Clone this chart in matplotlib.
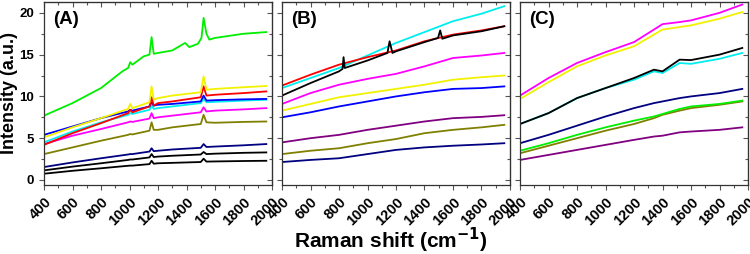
import matplotlib
matplotlib.use("Agg")
import matplotlib.pyplot as plt
from matplotlib.ticker import MultipleLocator

plt.rcParams['font.family'] = ['Liberation Sans', 'DejaVu Sans']

# Panel A: shared read positions (peaks near 1005, 1155, 1520 cm-1)
xA = [400, 600, 800, 990, 1005, 1020, 1140, 1155, 1170, 1200, 1300, 1500, 1520, 1540, 1600, 1800, 1960]
a_yellow = [5.1, 6.3, 7.4, 8.5, 9.1, 8.6, 9.3, 11.2, 9.6, 9.8, 10.1, 10.5, 12.4, 10.8, 10.9, 11.1, 11.25]
a_red = [4.2, 5.6, 6.8, 8.0, 8.4, 8.1, 8.8, 9.9, 8.9, 9.2, 9.4, 9.9, 11.2, 10.1, 10.2, 10.4, 10.6]
a_blue = [5.4, 6.4, 7.4, 8.2, 8.4, 8.3, 8.8, 9.3, 8.9, 9.0, 9.1, 9.4, 10.1, 9.5, 9.55, 9.65, 9.7]
a_cyan = [4.5, 5.8, 6.9, 7.8, 8.0, 7.9, 8.4, 8.9, 8.5, 8.6, 8.8, 9.2, 9.7, 9.3, 9.35, 9.5, 9.6]
a_magenta = [4.3, 5.3, 6.1, 6.9, 7.0, 6.95, 7.35, 8.0, 7.4, 7.5, 7.7, 8.1, 8.7, 8.2, 8.3, 8.45, 8.6]
a_olive = [3.1, 3.9, 4.7, 5.4, 5.5, 5.45, 5.9, 6.9, 6.0, 6.0, 6.3, 6.7, 7.8, 6.9, 6.85, 6.95, 7.0]
a_navy = [1.55, 2.1, 2.6, 3.05, 3.1, 3.1, 3.4, 3.8, 3.45, 3.5, 3.65, 3.85, 4.3, 3.95, 4.0, 4.15, 4.3]
a_black1 = [1.15, 1.6, 2.0, 2.4, 2.45, 2.45, 2.7, 3.1, 2.75, 2.8, 2.9, 3.05, 3.35, 3.1, 3.15, 3.25, 3.3]
a_black2 = [0.75, 1.1, 1.4, 1.7, 1.72, 1.72, 1.9, 2.3, 1.95, 2.0, 2.05, 2.15, 2.55, 2.2, 2.22, 2.27, 2.3]
xA_green = [400, 600, 800, 950, 990, 1005, 1020, 1100, 1140, 1155, 1170, 1200, 1300, 1390,
            1420, 1480, 1505, 1520, 1540, 1560, 1600, 1800, 1960]
a_green = [7.7, 9.2, 11.0, 13.0, 13.4, 14.1, 13.8, 14.8, 15.0, 17.1, 15.1, 15.2, 15.5, 16.4,
           15.9, 16.3, 17.0, 19.4, 17.5, 16.8, 17.0, 17.5, 17.7]

# Panel B
xB = [400, 600, 800, 1000, 1200, 1400, 1600, 1800, 1960]
b_cyan = [11.0, 12.2, 13.4, 14.9, 16.4, 17.7, 19.0, 19.9, 20.8]
b_red = [11.3, 12.6, 13.8, 14.7, 15.5, 16.6, 17.4, 17.9, 18.4]
b_magenta = [9.1, 10.4, 11.4, 12.1, 12.7, 13.6, 14.6, 14.9, 15.2]
b_yellow = [8.3, 9.1, 9.9, 10.4, 10.9, 11.4, 12.0, 12.3, 12.5]
b_blue = [7.5, 8.1, 8.8, 9.4, 10.0, 10.5, 10.9, 11.0, 11.2]
b_purple = [4.5, 5.0, 5.4, 6.0, 6.5, 7.0, 7.4, 7.55, 7.75]
b_olive = [3.1, 3.5, 3.8, 4.4, 4.9, 5.6, 6.0, 6.3, 6.6]
b_navy = [2.15, 2.4, 2.6, 3.1, 3.6, 3.9, 4.1, 4.25, 4.4]
xB_black = [400, 600, 800, 825, 832, 840, 1000, 1140, 1155, 1175, 1200, 1400, 1495, 1510, 1525, 1600, 1800, 1960]
b_black = [10.1, 11.6, 13.0, 13.3, 14.7, 13.4, 14.3, 15.2, 16.6, 15.2, 15.4, 16.5, 17.0, 17.9, 16.9, 17.3, 17.8, 18.4]

# Panel C
xC = [400, 600, 800, 1000, 1200, 1340, 1400, 1520, 1600, 1800, 1960]
c_magenta = [10.1, 12.2, 14.0, 15.3, 16.5, 18.0, 18.65, 18.9, 19.1, 20.0, 21.0]
c_yellow = [9.7, 11.7, 13.6, 14.9, 16.0, 17.4, 18.0, 18.3, 18.5, 19.3, 20.1]
c_black = [6.7, 8.0, 9.8, 11.0, 12.2, 13.2, 13.0, 14.4, 14.35, 15.0, 15.8]
c_cyan = [6.7, 8.0, 9.8, 11.0, 12.0, 13.0, 12.8, 14.0, 13.9, 14.5, 15.2]
c_navy = [4.4, 5.4, 6.5, 7.6, 8.6, 9.2, 9.4, 9.8, 10.0, 10.4, 10.9]
c_green = [3.5, 4.4, 5.4, 6.3, 7.1, 7.6, 7.9, 8.5, 8.8, 9.1, 9.5]
c_olive = [3.2, 4.1, 5.0, 5.9, 6.7, 7.4, 7.8, 8.3, 8.6, 9.0, 9.4]
c_purple = [2.4, 3.0, 3.6, 4.2, 4.8, 5.2, 5.3, 5.7, 5.8, 6.0, 6.3]

xticks = [400, 600, 800, 1000, 1200, 1400, 1600, 1800, 2000]
yticks = [0, 5, 10, 15, 20]

GREEN, YELLOW, RED, BLUE = '#00ee00', '#f2f200', '#ff0000', '#0000ff'
CYAN, MAGENTA, OLIVE, NAVY = '#00eeee', '#ff00ff', '#808000', '#000080'
BLACK, PURPLE = '#000000', '#800080'

panel_A = [(xA_green, a_green, GREEN), (xA, a_black2, BLACK), (xA, a_black1, BLACK),
           (xA, a_navy, NAVY), (xA, a_olive, OLIVE), (xA, a_magenta, MAGENTA),
           (xA, a_cyan, CYAN), (xA, a_blue, BLUE), (xA, a_red, RED), (xA, a_yellow, YELLOW)]
panel_B = [(xB, b_navy, NAVY), (xB, b_olive, OLIVE), (xB, b_purple, PURPLE),
           (xB, b_blue, BLUE), (xB, b_yellow, YELLOW), (xB, b_magenta, MAGENTA),
           (xB, b_cyan, CYAN), (xB, b_red, RED), (xB_black, b_black, BLACK)]
panel_C = [(xC, c_purple, PURPLE), (xC, c_olive, OLIVE), (xC, c_green, GREEN),
           (xC, c_navy, NAVY), (xC, c_cyan, CYAN), (xC, c_black, BLACK),
           (xC, c_yellow, YELLOW), (xC, c_magenta, MAGENTA)]


def style_ticks(axis, direction):
    axis.tick_params(which='both', direction=direction, color='#555555', width=0.8)
    axis.tick_params(which='major', length=3.5)
    axis.tick_params(which='minor', length=2)


fig = plt.figure(figsize=(7.5, 2.54), dpi=100)
lefts = [44, 282, 520]
panels = [panel_A, panel_B, panel_C]
labels = ['(A)', '(B)', '(C)']

for i, (left, series, lab) in enumerate(zip(lefts, panels, labels)):
    ax = fig.add_axes([left / 750, 1 - 185 / 254, 228 / 750, 183 / 254])
    for xs, ys, col in series:
        ax.plot(xs, ys, color=col, lw=1.3)
    ax.set_xlim(400, 2000)
    ax.set_ylim(-0.6, 21.3)
    ax.xaxis.set_minor_locator(MultipleLocator(100))
    ax.yaxis.set_minor_locator(MultipleLocator(2.5))
    style_ticks(ax, 'out')
    ax.set_xticks(xticks)
    ax.set_xticklabels([str(v) for v in xticks], rotation=45, ha='right',
                       va='top', rotation_mode='anchor', fontsize=10.5, fontweight='bold')
    ax.set_yticks(yticks)
    if i == 0:
        ax.set_yticklabels([str(v) for v in yticks], fontsize=9.5, fontweight='bold')
        ax.set_ylabel('Intensity (a.u.)', fontsize=13, fontweight='bold', labelpad=1)
    else:
        ax.set_yticklabels([])
    # inward ticks on top and right
    sec = ax.secondary_xaxis('top')
    sec.xaxis.set_major_locator(MultipleLocator(200))
    sec.xaxis.set_minor_locator(MultipleLocator(100))
    sec.tick_params(labeltop=False)
    style_ticks(sec, 'in')
    sec2 = ax.secondary_yaxis('right')
    sec2.yaxis.set_major_locator(MultipleLocator(5))
    sec2.yaxis.set_minor_locator(MultipleLocator(2.5))
    sec2.tick_params(labelright=False)
    style_ticks(sec2, 'in')
    for sp in ax.spines.values():
        sp.set_color('#333333')
        sp.set_linewidth(0.9)
    ax.text(0.04, 0.905, lab, transform=ax.transAxes, fontsize=13.5, fontweight='bold',
            va='center', ha='left')

fig.text(391 / 750, 0.055, 'Raman shift (cm$^{\\mathbf{-1}}$)', fontsize=15, fontweight='bold',
         ha='center', va='center')

fig.savefig('out.png', dpi=100)
